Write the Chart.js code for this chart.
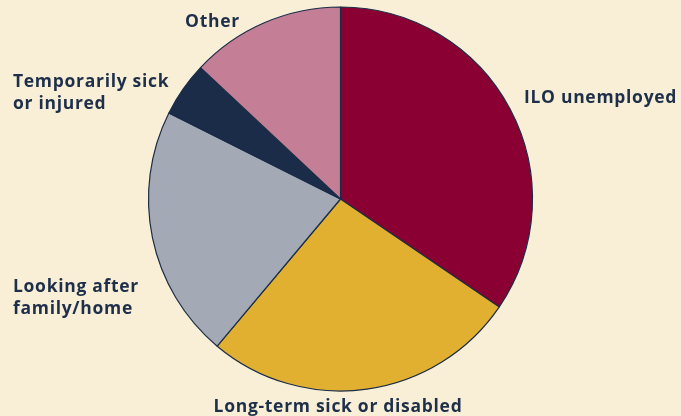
<!DOCTYPE html>
<html lang="en">
<head>
    <meta charset="UTF-8">
    <title>Economic inactivity and unemployment</title>
    <script src="https://cdn.jsdelivr.net/npm/chart.js"></script>
    <style>
        body { margin: 0; background: #f9efd6; }
        #wrap { width: 681px; height: 416px; }
    </style>
</head>
<body>
    <div id="wrap"><canvas id="myChart" width="681" height="416"></canvas></div>

    <script>
        // categories and shares (%)
        const categories = ['ILO unemployed', 'Long-term sick or disabled', 'Looking after family/home', 'Temporarily sick or injured', 'Other'];
        const shares = [34.5, 26.6, 21.3, 4.6, 13.0];
        const sliceColours = ['#8a0032', '#e1b030', '#a3a9b5', '#1a2c47', '#c47f96'];

        // label text, split into lines, and where each goes
        const labelLines = [['ILO unemployed'], ['Long-term sick or disabled'], ['Looking after', 'family/home'], ['Temporarily sick', 'or injured'], ['Other']];
        const labelPlaces = [
            { x: 524, y: 103, align: 'left' },
            { x: 338, y: 412, align: 'center' },
            { x: 13, y: 292, align: 'left' },
            { x: 13, y: 87, align: 'left' },
            { x: 185, y: 27, align: 'left' }
        ];

        const textColour = '#1e2f4a';

        // draws the outside labels
        const outsideLabels = {
            id: 'outsideLabels',
            afterDraw(chart) {
                const ctx = chart.ctx;
                ctx.save();
                ctx.font = 'bold 17.5px "Open Sans"';
                ctx.letterSpacing = '0.7px';
                ctx.fillStyle = textColour;
                ctx.textBaseline = 'alphabetic';
                labelLines.forEach(function(lines, i) {
                    const p = labelPlaces[i];
                    ctx.textAlign = p.align;
                    lines.forEach(function(line, j) {
                        ctx.fillText(line, p.x, p.y + j * 22);
                    });
                });
                ctx.restore();
            }
        };

        new Chart(document.getElementById('myChart'), {
            type: 'pie',
            data: {
                labels: categories,
                datasets: [{
                    data: shares,
                    backgroundColor: sliceColours,
                    borderColor: '#1a2c47',
                    borderWidth: 1.2
                }]
            },
            options: {
                responsive: false,
                animation: false,
                radius: 192,
                layout: { padding: { top: 8, bottom: 26 } },
                plugins: {
                    legend: { display: false },
                    tooltip: { enabled: false }
                }
            },
            plugins: [outsideLabels]
        });
    </script>
</body>
</html>
